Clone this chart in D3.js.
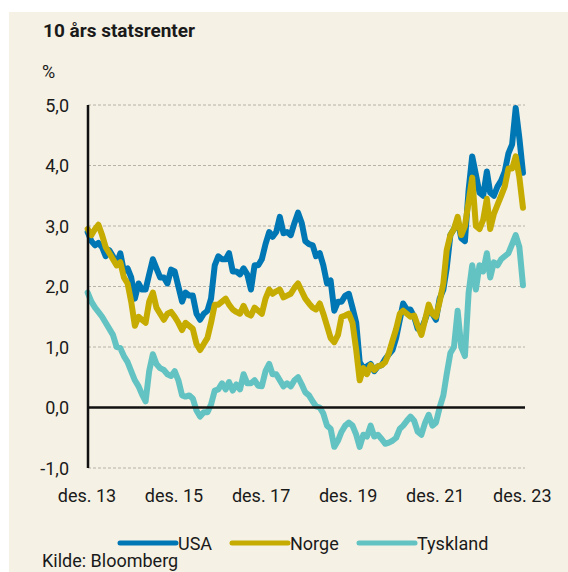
<!DOCTYPE html>
<html><head><meta charset="utf-8">
<script src="https://cdn.jsdelivr.net/npm/d3@7"></script>
<style>
html,body{margin:0;padding:0;background:#fff;}
svg{display:block;}
text{font-family:Roboto, "Open Sans", sans-serif;fill:#1a1a1a;}
</style></head>
<body>
<svg id="c" width="568" height="572"></svg>
<script>
// Months since Dec 2013 (mid-month), Dec 2013 .. Dec 2023
const startYear = 2013, startMonth = 11;
const usa = [2.90,
 2.75,2.68,2.72,2.65,2.50,2.60,2.50,2.38,2.55,2.25,2.30,2.15,
 1.80,2.05,1.95,1.95,2.20,2.45,2.30,2.15,2.15,2.05,2.28,2.25,
 2.00,1.75,1.90,1.85,1.85,1.55,1.45,1.55,1.60,1.80,2.35,2.50,
 2.45,2.45,2.55,2.25,2.25,2.20,2.30,2.20,1.95,2.35,2.35,2.45,
 2.70,2.90,2.82,2.90,3.15,2.88,2.90,2.85,3.05,3.22,3.05,2.75,
 2.70,2.68,2.50,2.55,2.35,2.05,2.10,1.60,1.75,1.75,1.85,1.88,
 1.65,1.40,0.75,0.65,0.68,0.72,0.60,0.68,0.70,0.80,0.88,0.95,
 1.15,1.45,1.72,1.62,1.62,1.50,1.30,1.30,1.45,1.62,1.55,1.45,
 1.80,1.95,2.30,2.85,2.95,3.10,2.80,2.75,3.60,4.15,3.85,3.55,
 3.50,3.90,3.55,3.50,3.65,3.75,3.90,4.20,4.35,4.95,4.45,3.88];
const norge = [2.95,
 2.85,2.95,3.02,2.85,2.65,2.55,2.45,2.35,2.40,2.15,2.05,1.75,
 1.35,1.50,1.45,1.40,1.75,1.90,1.65,1.55,1.45,1.55,1.58,1.50,
 1.40,1.28,1.40,1.35,1.30,1.05,0.95,1.05,1.15,1.40,1.70,1.70,
 1.75,1.80,1.70,1.62,1.58,1.55,1.68,1.55,1.52,1.65,1.60,1.55,
 1.80,1.95,1.88,1.92,1.95,1.82,1.85,1.88,1.98,2.05,1.92,1.80,
 1.72,1.65,1.62,1.72,1.55,1.35,1.15,1.08,1.20,1.50,1.52,1.55,
 1.40,0.95,0.45,0.65,0.55,0.70,0.62,0.68,0.70,0.75,0.90,1.10,
 1.30,1.55,1.60,1.55,1.50,1.52,1.35,1.20,1.45,1.70,1.55,1.50,
 1.75,2.05,2.60,2.85,2.95,3.15,2.85,3.00,3.40,3.80,3.00,2.95,
 3.10,3.45,2.95,3.20,3.35,3.50,3.65,3.95,3.95,4.15,3.80,3.30];
const tyskland = [1.90,
 1.75,1.65,1.58,1.50,1.40,1.30,1.20,1.00,0.98,0.85,0.75,0.60,
 0.45,0.35,0.22,0.10,0.60,0.88,0.72,0.65,0.62,0.55,0.52,0.60,
 0.45,0.20,0.18,0.20,0.15,-0.05,-0.15,-0.08,-0.08,0.05,0.28,0.30,
 0.40,0.30,0.42,0.28,0.38,0.30,0.55,0.40,0.40,0.45,0.36,0.35,
 0.60,0.72,0.55,0.55,0.45,0.35,0.40,0.35,0.45,0.50,0.38,0.25,
 0.20,0.10,0.02,0.00,-0.10,-0.30,-0.35,-0.65,-0.55,-0.40,-0.30,-0.25,
 -0.30,-0.45,-0.65,-0.45,-0.48,-0.30,-0.48,-0.45,-0.52,-0.60,-0.58,-0.55,
 -0.50,-0.35,-0.30,-0.22,-0.15,-0.22,-0.40,-0.45,-0.25,-0.12,-0.30,-0.25,
 0.00,0.20,0.55,0.90,1.00,1.60,1.00,0.85,1.90,2.35,1.95,2.35,
 2.25,2.55,2.15,2.40,2.35,2.45,2.50,2.55,2.70,2.85,2.65,2.02];
const seriesNames = ["USA","Norge","Tyskland"];
const seriesColors = ["#0077b5","#c6ab00","#63c3c3"];
const yTicks = [-1,0,1,2,3,4,5];
const xTickYears = [2013,2015,2017,2019,2021,2023];
const xTickLabels = ["des. 13","des. 15","des. 17","des. 19","des. 21","des. 23"];

const dates = usa.map((_,i)=> new Date(startYear, startMonth + i, 15));

const svg = d3.select("#c");
svg.append("rect").attr("x",9).attr("y",12).attr("width",559).attr("height",560).attr("fill","#f5f1e4");

const x = d3.scaleTime().domain([new Date(2013,11,1), new Date(2024,0,1)]).range([86, 525]);
const y = d3.scaleLinear().domain([-1,5]).range([468,105]);

// grid
svg.append("g").selectAll("line").data(yTicks.filter(t=>t!==0)).join("line")
  .attr("x1",88).attr("x2",525).attr("y1",d=>y(d)).attr("y2",d=>y(d))
  .attr("stroke","#b7b2a8").attr("stroke-width",1).attr("stroke-dasharray","3,2");

// y labels
svg.append("g").selectAll("text").data(yTicks).join("text")
  .attr("x",69).attr("y",d=>y(d)+6.5).attr("text-anchor","end")
  .attr("font-size",18).text(d=>d3.format(".1f")(d).replace(".",",").replace("\u2212","-"));

// x labels
svg.append("g").selectAll("text").data(xTickYears).join("text")
  .attr("x",d=>x(new Date(d,11,1))+1).attr("y",502).attr("text-anchor","middle")
  .attr("font-size",18).text((d,i)=>xTickLabels[i]);

// lines
const line = d3.line().x((d,i)=>x(dates[i])).y(d=>y(d)).curve(d3.curveLinear);
const order = [2,0,1];
const allSeries = [usa,norge,tyskland];
order.forEach(k=>{
  svg.append("path").datum(allSeries[k]).attr("d",line)
    .attr("fill","none").attr("stroke",seriesColors[k]).attr("stroke-width",6)
    .attr("stroke-linejoin","round").attr("stroke-linecap","round");
});

// axes lines
svg.append("line").attr("x1",88).attr("x2",88).attr("y1",y(5)).attr("y2",y(-1))
  .attr("stroke","#111").attr("stroke-width",2.5);
svg.append("line").attr("x1",88).attr("x2",525).attr("y1",y(0)).attr("y2",y(0))
  .attr("stroke","#111").attr("stroke-width",2.5);

// titles
svg.append("text").attr("x",43).attr("y",37).attr("font-size",19).attr("font-weight","bold").text("10 års statsrenter");
svg.append("text").attr("x",42).attr("y",78).attr("font-size",18).text("%");

// legend
const legX = [120,232,359];
seriesNames.forEach((n,i)=>{
  svg.append("line").attr("x1",legX[i]).attr("x2",legX[i]+56).attr("y1",543).attr("y2",543)
    .attr("stroke",seriesColors[i]).attr("stroke-width",5).attr("stroke-linecap","round");
  svg.append("text").attr("x",legX[i]+58).attr("y",550).attr("font-size",18).text(n);
});
svg.append("text").attr("x",42).attr("y",567).attr("font-size",18).text("Kilde: Bloomberg");
</script>
</body></html>
